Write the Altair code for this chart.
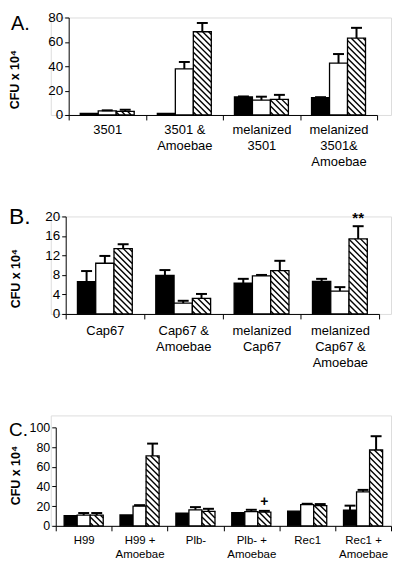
import altair as alt
import pandas as pd

FONT = "Liberation Sans"
SERIES = ["black", "white", "hatch"]

# ---------------- Panel A ----------------
a_groups = ["3501", "3501 &|Amoebae", "melanized|3501", "melanized|3501&|Amoebae"]
a_black = [1.3, 1.3, 14.8, 14.2]
a_black_err = [1.3, 1.3, 15.2, 14.6]
a_white = [3.3, 37.8, 12.2, 42.5]
a_white_err = [3.8, 43.5, 15.0, 50.0]
a_hatch = [3.0, 68.3, 12.8, 63.0]
a_hatch_err = [4.3, 75.5, 16.5, 71.5]
a_yticks = [0, 20, 40, 60, 80]
a_marks = []

# ---------------- Panel B ----------------
b_groups = ["Cap67", "Cap67 &|Amoebae", "melanized|Cap67", "melanized|Cap67 &|Amoebae"]
b_black = [6.6, 7.9, 6.3, 6.7]
b_black_err = [8.8, 9.0, 7.2, 7.2]
b_white = [10.4, 2.2, 7.8, 4.7]
b_white_err = [11.9, 2.7, 8.0, 5.5]
b_hatch = [13.4, 3.2, 8.9, 15.4]
b_hatch_err = [14.3, 4.1, 10.9, 18.0]
b_yticks = [0, 4, 8, 12, 16, 20]
b_marks = [{"group": 3, "series": "hatch", "text": "**"}]

# ---------------- Panel C ----------------
c_groups = ["H99", "H99 +|Amoebae", "Plb-", "Plb- +|Amoebae", "Rec1", "Rec1 +|Amoebae"]
c_black = [10.3, 11.0, 12.8, 13.5, 15.0, 16.0]
c_black_err = [10.3, 11.0, 12.8, 13.5, 15.0, 20.5]
c_white = [10.8, 20.0, 16.3, 14.5, 21.5, 34.5]
c_white_err = [13.0, 21.0, 19.0, 16.3, 22.4, 36.5]
c_hatch = [10.8, 71.0, 14.7, 14.0, 20.5, 77.0]
c_hatch_err = [13.0, 83.5, 17.3, 15.2, 22.1, 91.0]
c_yticks = [0, 20, 40, 60, 80, 100]
c_marks = [{"group": 3, "series": "hatch", "text": "+"}]

Y_TITLE = "CFU x 10\u2074"
W = 342          # common group width
BAR = 0.2333     # bar width (fraction of a group)
MARGIN = 0.15    # margin inside a group
CAP_PX = 5.5     # half width of error caps (px)
HATCH_STEP = 6.0 # hatch period (px)


def hatch_rows(left, w_px, h_px, ppx, ppy):
    rows = []
    c = HATCH_STEP / 2
    while c < w_px + h_px:
        xa = max(0.0, c - h_px)
        xb = min(w_px, c)
        if xb > xa:
            rows.append({"x": left + xa / ppx, "x2": left + xb / ppx,
                         "y": (c - xa) / ppy, "y2": (c - xb) / ppy})
        c += HATCH_STEP
    return rows


def panel(groups, vals, errs, yticks, marks, lay):
    n = len(groups)
    ymax = yticks[-1]
    x0, x1 = lay["xr"]
    ppx = (x1 - x0) / n
    ppy = lay["dh"] / ymax
    gh = lay["dh"] + lay["top"]

    bars, hatch, ebars = [], [], []
    for si, s in enumerate(SERIES):
        for g in range(n):
            left = g + MARGIN + si * BAR
            right = left + BAR
            center = left + BAR / 2
            v = vals[si][g]
            e = errs[si][g]
            bars.append({"g": g, "series": s, "left": left, "right": right,
                         "center": center, "value": v, "base": 0})
            if s == "hatch":
                hatch += hatch_rows(left, BAR * ppx, v * ppy, ppx, ppy)
            if e > v + 0.05:
                ebars.append({"center": center, "value": v, "err": e,
                              "cl": center - CAP_PX / ppx, "cr": center + CAP_PX / ppx})
    bars_df = pd.DataFrame(bars)
    hatch_df = pd.DataFrame(hatch)
    err_df = pd.DataFrame(ebars)

    arr = "[" + ",".join("'" + g + "'" for g in groups) + "]"
    label_expr = f"datum.value % 1 == 0 ? '' : split({arr}[floor(datum.value)], '|')"
    xvals = [i * 0.5 for i in range(2 * n + 1)]

    xs = alt.Scale(domain=[0, n], range=[x0, x1], nice=False, zero=False)
    ys = alt.Scale(domain=[0, ymax], range=[gh, lay["top"]], nice=False, zero=True)

    xaxis = alt.Axis(values=xvals, labelExpr=label_expr, title=None, grid=False,
                     tickOpacity={"condition": {"test": "datum.value % 1 == 0", "value": 1}, "value": 0},
                     tickSize=5, tickColor="black", domainColor="black", domainWidth=1,
                     labelColor="black", labelFont=FONT, labelFontSize=lay["lfs"],
                     labelLineHeight=lay["llh"], labelPadding=lay["lpad"], labelAngle=0,
                     labelAlign="center", labelBaseline="top",
                     labelOverlap=False, labelFlush=False)
    yaxis = alt.Axis(values=yticks, title=Y_TITLE, grid=False, offset=lay["yoff"],
                     tickSize=4, tickColor="black", domainColor="black", domainWidth=1,
                     labelColor="black", labelFont=FONT, labelFontSize=lay["yfs"], labelPadding=2,
                     labelOverlap=False, labelFlush=False,
                     titleFont=FONT, titleFontSize=12.5, titleFontWeight="bold", titleColor="black",
                     titleX=lay["tx"], titleY=lay["ty"], titleBaseline="middle", titleAngle=270)

    def X(f):
        return alt.X(f, scale=xs, axis=xaxis)

    def Y(f):
        return alt.Y(f, scale=ys, axis=yaxis)

    rects = alt.Chart(bars_df).mark_rect(stroke="black", strokeWidth=1.3).encode(
        x=X("left:Q"), x2="right:Q",
        y=Y("value:Q"), y2="base:Q",
        fill=alt.Fill("series:N", scale=alt.Scale(domain=SERIES, range=["#000000", "#ffffff", "#ffffff"]),
                      legend=None),
    )
    hatch_l = alt.Chart(hatch_df).mark_rule(color="black", strokeWidth=1.4).encode(
        x=X("x:Q"), x2="x2:Q", y=Y("y:Q"), y2="y2:Q")
    evert = alt.Chart(err_df).mark_rule(color="black", strokeWidth=2).encode(
        x=X("center:Q"), y=Y("value:Q"), y2="err:Q")
    ecap = alt.Chart(err_df).mark_rule(color="black", strokeWidth=2).encode(
        x=X("cl:Q"), x2="cr:Q", y=Y("err:Q"))
    layers = [rects, hatch_l, evert, ecap]

    if marks:
        mrows = []
        for m in marks:
            si = SERIES.index(m["series"])
            g = m["group"]
            mrows.append({"center": g + MARGIN + si * BAR + BAR / 2,
                          "err": errs[si][g], "text": m["text"]})
        mdf = pd.DataFrame(mrows)
        txt = alt.Chart(mdf).mark_text(font=FONT, fontSize=lay["mfs"], fontWeight="bold",
                                       color="black", baseline="alphabetic",
                                       dy=lay["mdy"]).encode(
            x=X("center:Q"), y=Y("err:Q"), text="text:N")
        layers.append(txt)

    return alt.layer(*layers).properties(
        width=W, height=gh,
        title=alt.TitleParams(lay["title"], anchor="start", frame="group", orient="top",
                              font=FONT, fontSize=lay["tfs"], fontWeight="normal", color="black",
                              baseline="alphabetic", offset=0, dx=lay["tdx"], dy=lay["tdy"]),
    )


lay_a = dict(xr=(18, 328), dh=98, top=0, yoff=-18, tx=-54, ty=62, lfs=13, llh=16, lpad=4,
             yfs=13.5, title="A.", tfs=20, tdx=-40, tdy=40, mfs=15, mdy=-3)
lay_b = dict(xr=(15, 330), dh=98, top=0, yoff=-15, tx=-50.5, ty=62, lfs=13, llh=16, lpad=6,
             yfs=13.5, title="B.", tfs=23, tdx=-42, tdy=38, mfs=15, mdy=-3)
lay_c = dict(xr=(5, 342), dh=99, top=12, yoff=-5, tx=-40, ty=60, lfs=11.5, llh=14, lpad=4,
             yfs=12.5, title="C.", tfs=19, tdx=-42, tdy=40, mfs=14, mdy=-5)

pa = panel(a_groups, [a_black, a_white, a_hatch], [a_black_err, a_white_err, a_hatch_err],
           a_yticks, a_marks, lay_a)
pb = panel(b_groups, [b_black, b_white, b_hatch], [b_black_err, b_white_err, b_hatch_err],
           b_yticks, b_marks, lay_b)
pc = panel(c_groups, [c_black, c_white, c_hatch], [c_black_err, c_white_err, c_hatch_err],
           c_yticks, c_marks, lay_c)

chart = alt.vconcat(pa, pb, pc, spacing=102, bounds="flush").properties(
    padding={"left": 0, "top": 0, "right": 0, "bottom": 36}
).configure_view(strokeWidth=0).configure(font=FONT)

chart.save("out.html", embed_options={"renderer": "svg", "actions": False})
